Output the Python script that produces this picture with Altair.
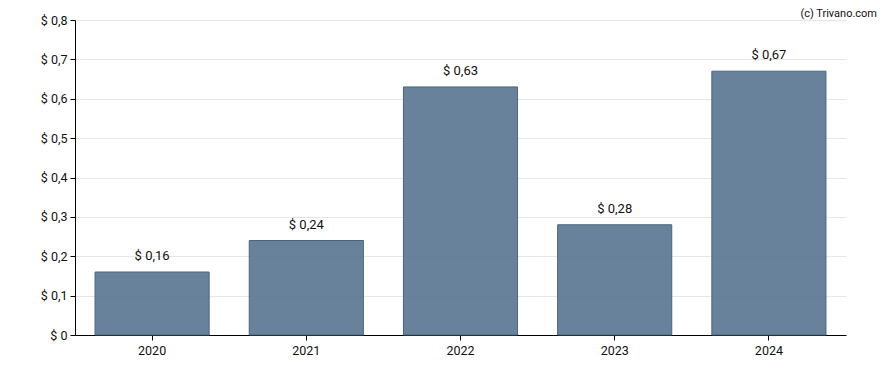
import altair as alt
import pandas as pd

years = ["2020", "2021", "2022", "2023", "2024"]
values = [0.16, 0.24, 0.63, 0.28, 0.67]
credit = ["(c) Trivano.com"]

df = pd.DataFrame({"year": years, "value": values})

FONT = "Roboto"

base = alt.Chart(df).encode(
    x=alt.X("year:N", sort=years,
            scale=alt.Scale(paddingInner=0.26, paddingOuter=0.13),
            axis=alt.Axis(title=None, labelAngle=0, labelFontSize=12.5, labelFont=FONT,
                          labelColor="#111111", domainColor="#000000", tickColor="#000000",
                          tickSize=5, labelPadding=4, grid=False)),
    y=alt.Y("value:Q", scale=alt.Scale(domain=[0, 0.8], nice=False),
            axis=alt.Axis(title=None, values=[0, 0.1, 0.2, 0.3, 0.4, 0.5, 0.6, 0.7, 0.8],
                          labelExpr="'$ ' + replace(format(datum.value, '.1~f'), '.', ',')",
                          labelFontSize=12.5, labelFont=FONT, labelColor="#111111",
                          domainColor="#000000", tickColor="#000000", tickSize=5,
                          labelPadding=3, gridColor="#e6e6e6")),
)

bars = base.mark_bar(fill="#57748f", fillOpacity=0.9, stroke="#4a657c", strokeWidth=1)

labels = base.transform_calculate(
    lab="'$ ' + replace(format(datum.value, '.2f'), '.', ',')"
).mark_text(baseline="alphabetic", dy=-12, fontSize=13, font=FONT, color="#111111").encode(
    text="lab:N"
)

credit_text = alt.Chart(pd.DataFrame({"t": credit})).mark_text(
    align="right", baseline="top", fontSize=11, font=FONT, color="#111111"
).encode(x=alt.value(802), y=alt.value(-12), text="t:N")

chart = (bars + labels + credit_text).properties(
    width=771, height=315,
    autosize=alt.AutoSizeParams(type="none"),
    padding={"left": 67, "top": 12, "right": 34, "bottom": 27},
).configure_view(stroke=None)

chart.save("out.html", embed_options={"renderer": "svg", "actions": False})
